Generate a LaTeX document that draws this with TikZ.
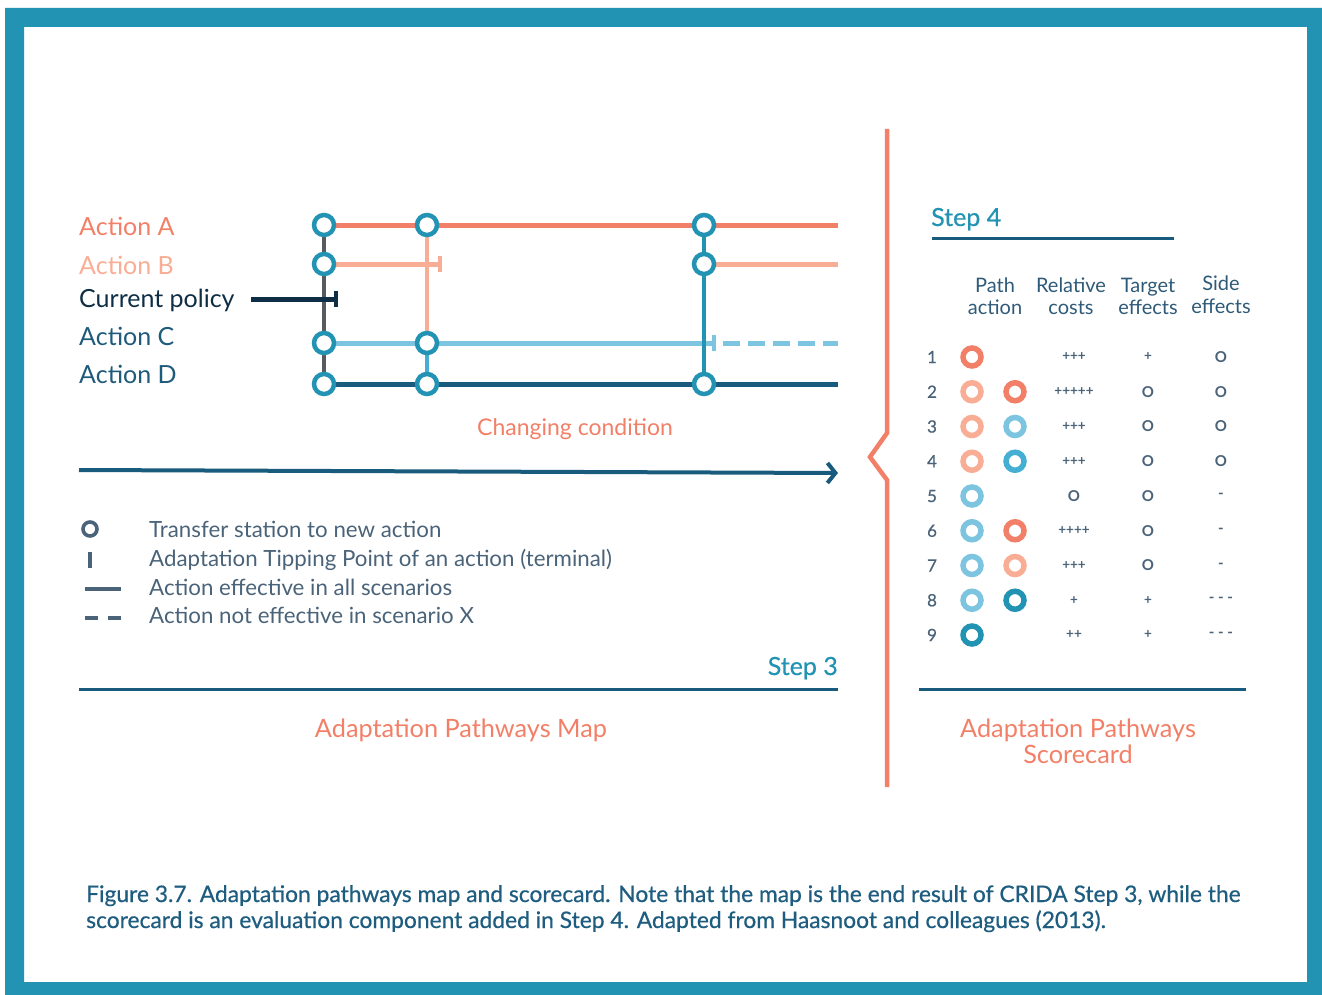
\documentclass[tikz,border=0pt]{standalone}
\usepackage{fontspec}
\setmainfont{Lato}
\newfontfamily\medfont[FakeBold=0.6]{Lato}
\usetikzlibrary{arrows.meta}
\definecolor{frameteal}{HTML}{2393B3}
\definecolor{coral}{HTML}{F27F67}
\definecolor{salmon}{HTML}{F9AD94}
\definecolor{lblue}{HTML}{7DC4E0}
\definecolor{mblue}{HTML}{45AFD3}
\definecolor{dblue}{HTML}{195B7C}
\definecolor{navy}{HTML}{0D2E45}
\definecolor{slate}{HTML}{4A6379}
\definecolor{grayline}{HTML}{575B5F}
\definecolor{labblue}{HTML}{1E5A7A}
\definecolor{hdrblue}{HTML}{2E5A78}
\definecolor{capblue}{HTML}{1E5D7F}
\begin{document}
\begin{tikzpicture}[x=1pt,y=-1pt,
  station/.style={circle,draw=frameteal,line width=4.5pt,fill=white,minimum size=20pt,inner sep=0pt},
  scirc/.style={circle,draw=#1,line width=5.5pt,minimum size=18pt,inner sep=0pt},
  act/.style={anchor=base west,inner sep=0pt,font=\fontsize{25}{30}\selectfont},
  leg/.style={anchor=base west,inner sep=0pt,text=slate,font=\fontsize{22.3}{26}\selectfont},
  hdr/.style={anchor=base,inner sep=0pt,text=hdrblue,font=\fontsize{20}{22}\selectfont},
  num/.style={inner sep=0pt,text=slate,font=\medfont\fontsize{17}{20}\selectfont},
  sym/.style={inner sep=0pt,text=slate,font=\bfseries\fontsize{13.5}{15}\selectfont},
  symd/.style={inner sep=0pt,text=slate,font=\bfseries\fontsize{15}{17}\selectfont},
  symo/.style={inner sep=0pt,text=slate,font=\bfseries\fontsize{15}{17}\selectfont},
  steplab/.style={anchor=base,inner sep=0pt,text=frameteal,font=\medfont\fontsize{25}{30}\selectfont},
  title/.style={anchor=base,inner sep=0pt,text=coral,font=\fontsize{25.3}{30}\selectfont},
  capline/.style={anchor=base west,inner sep=0pt,text=capblue,font=\medfont\fontsize{22.8}{27}\selectfont},
  mapline/.style={line width=5pt},
  vline/.style={line width=4.5pt},
  rule/.style={dblue,line width=3pt},
  legicon/.style={slate,line width=3.6pt}
]
\useasboundingbox (0,0) rectangle (1322,995);
% frame
\fill[frameteal,even odd rule] (5,8) rectangle (1322,995) (24,27) rectangle (1307,982);

% ---------- map ----------
% station positions
\coordinate (pa1) at (324,225); \coordinate (pb1) at (324,264);
\coordinate (pc1) at (324,343); \coordinate (pd1) at (324,384);
\coordinate (pa2) at (427,225); \coordinate (pc2) at (427,343); \coordinate (pd2) at (427,384);
\coordinate (pa3) at (704,225); \coordinate (pb3) at (704,264); \coordinate (pd3) at (704,384);
% line ends
\coordinate (aEnd) at (838,225);
\coordinate (bTip) at (440,264);
\coordinate (bEnd) at (838,264);
\coordinate (cTip) at (714,343);
\coordinate (cDash) at (723,343);
\coordinate (cEnd) at (838,343);
\coordinate (dEnd) at (838,384);
\coordinate (cpStart) at (251,299);
\coordinate (cpTip) at (336,299);

% horizontal lines
\draw[mapline,coral] (pa1) -- (aEnd);
\draw[mapline,salmon] (pb1) -- (bTip);
\draw[line width=4pt,salmon] ([yshift=-8pt]bTip) -- ([yshift=8pt]bTip);
\draw[mapline,salmon] (pb3) -- (bEnd);
\draw[mapline,lblue] (pc1) -- (cTip);
\draw[line width=4pt,lblue] ([yshift=-8pt]cTip) -- ([yshift=8pt]cTip);
\draw[mapline,lblue,dash pattern=on 17pt off 8pt] (cDash) -- (cEnd);
\draw[mapline,dblue] (pd1) -- (dEnd);
% vertical lines
\draw[vline,grayline] (pa1) -- (pd1);
\draw[vline,salmon] (pa2) -- (pc2);
\draw[vline,mblue] (pc2) -- (pd2);
\draw[vline,frameteal] (pa3) -- (pd3);
% current policy
\draw[mapline,navy] (cpStart) -- (cpTip);
\draw[line width=4pt,navy] ([yshift=-8pt]cpTip) -- ([yshift=8pt]cpTip);
% stations
\foreach \s in {a1,b1,c1,d1,a2,c2,d2,a3,b3,d3}
  \node[station] (s\s) at (p\s) {};

% labels
\node[act,text=coral] (labA) at (79,236) {Action A};
\node[act,text=salmon] (labB) at (79,274) {Action B};
\node[act,text=navy] (labCP) at (79,307) {Current policy};
\node[act,text=labblue] (labC) at (79,345) {Action C};
\node[act,text=labblue] (labD) at (79,383) {Action D};
\node[anchor=base,inner sep=0pt,text=coral,font=\fontsize{23}{27}\selectfont] (chg) at (575,435) {Changing condition};

% arrow
\coordinate (arrS) at (79,470);
\coordinate (arrE) at (838,473);
\draw[dblue,line width=4pt,-{Straight Barb[length=8pt,width=20pt]}] (arrS) -- (arrE);

% legend
\node[circle,draw=slate,line width=3.6pt,minimum size=14pt,inner sep=0pt] (legO) at (90,529) {};
\coordinate (legT1) at (90,552); \coordinate (legT2) at (90,568);
\draw[legicon] (legT1) -- (legT2);
\coordinate (legL1) at (85,589); \coordinate (legL2) at (121,589);
\draw[legicon] (legL1) -- (legL2);
\coordinate (legD1) at (85,618); \coordinate (legD2) at (98,618);
\coordinate (legD3) at (108,618); \coordinate (legD4) at (121,618);
\draw[legicon] (legD1) -- (legD2);
\draw[legicon] (legD3) -- (legD4);
\node[leg] (leg1) at (149,537) {Transfer station to new action};
\node[leg] (leg2) at (149,566) {Adaptation Tipping Point of an action (terminal)};
\node[leg] (leg3) at (149,595) {Action effective in all scenarios};
\node[leg] (leg4) at (149,623) {Action not effective in scenario X};

\node[steplab,anchor=base east] (step3) at (838,675) {Step 3};
\coordinate (r3a) at (79,689); \coordinate (r3b) at (838,689);
\draw[rule] (r3a) -- (r3b);
\node[title] (mapTitle) at (461,737) {Adaptation Pathways Map};

% ---------- brace ----------
\coordinate (br1) at (887,129); \coordinate (br2) at (887,433);
\coordinate (br3) at (870,457); \coordinate (br4) at (887,480);
\coordinate (br5) at (887,787);
\draw[coral,line width=4.5pt,line join=miter] (br1) -- (br2) -- (br3) -- (br4) -- (br5);

% ---------- scorecard ----------
\node[steplab,anchor=base west] (step4) at (931,226) {Step 4};
\coordinate (r4a) at (932,238); \coordinate (r4b) at (1174,238);
\draw[rule] (r4a) -- (r4b);

\node[hdr] (h1a) at (995,292) {Path};
\node[hdr] (h1b) at (995,314) {action};
\node[hdr] (h2a) at (1071,292) {Relative};
\node[hdr] (h2b) at (1071,314) {costs};
\node[hdr] (h3a) at (1148,292) {Target};
\node[hdr] (h3b) at (1148,314) {effects};
\node[hdr] (h4a) at (1221,290) {Side};
\node[hdr] (h4b) at (1221,313) {effects};

\foreach \i/\rc/\te/\se/\rs/\ts/\ss in {
  1/+++/+/O/sym/sym/symo,
  2/+++++/O/O/sym/symo/symo,
  3/+++/O/O/sym/symo/symo,
  4/+++/O/O/sym/symo/symo,
  5/O/O/-/symo/symo/symd,
  6/++++/O/-/sym/symo/symd,
  7/+++/O/-/sym/symo/symd,
  8/+/+/- - -/sym/sym/symd,
  9/++/+/- - -/sym/sym/symd}{
  \pgfmathsetmacro\yy{357+34.75*(\i-1)}
  \node[num] (n\i) at (932,\yy) {\i};
  \node[\rs] (rc\i) at (1074,\yy) {\rc};
  \node[\ts] (te\i) at (1148,\yy) {\te};
  \node[\ss] (se\i) at (1221,\yy) {\se};
}
% path circles
\node[scirc=coral] (p1a) at (972,357) {};
\node[scirc=salmon] (p2a) at (972,391.75) {};
\node[scirc=coral] (p2b) at (1015,391.75) {};
\node[scirc=salmon] (p3a) at (972,426.5) {};
\node[scirc=lblue] (p3b) at (1015,426.5) {};
\node[scirc=salmon] (p4a) at (972,461.25) {};
\node[scirc=mblue] (p4b) at (1015,461.25) {};
\node[scirc=lblue] (p5a) at (972,496) {};
\node[scirc=lblue] (p6a) at (972,530.75) {};
\node[scirc=coral] (p6b) at (1015,530.75) {};
\node[scirc=lblue] (p7a) at (972,565.5) {};
\node[scirc=salmon] (p7b) at (1015,565.5) {};
\node[scirc=lblue] (p8a) at (972,600.25) {};
\node[scirc=frameteal] (p8b) at (1015,600.25) {};
\node[scirc=frameteal] (p9a) at (972,635) {};

\coordinate (r5a) at (919,689); \coordinate (r5b) at (1246,689);
\draw[rule] (r5a) -- (r5b);
\node[title] (scTitle1) at (1078,737) {Adaptation Pathways};
\node[title] (scTitle2) at (1078,763) {Scorecard};

% ---------- caption ----------
\node[capline] (cap1) at (86,902) {Figure 3.7. Adaptation pathways map and scorecard. Note that the map is the end result of CRIDA Step 3, while the};
\node[capline] (cap2) at (86,928) {scorecard is an evaluation component added in Step 4. Adapted from Haasnoot and colleagues (2013).};
\end{tikzpicture}
\end{document}
